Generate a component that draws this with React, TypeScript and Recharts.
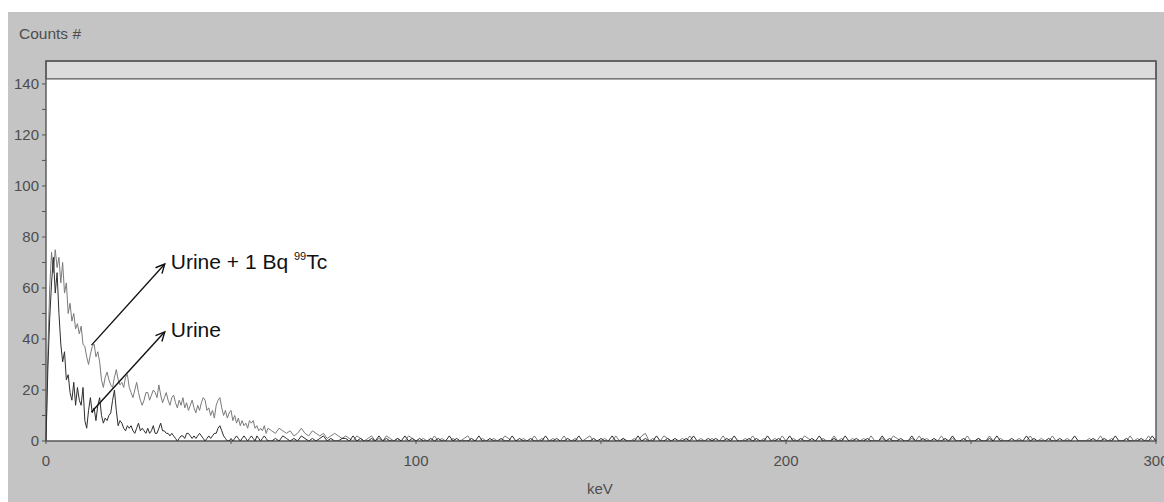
import React from 'react';
import {
  LineChart,
  Line,
  XAxis,
  YAxis,
  CartesianGrid,
  ReferenceArea,
  ReferenceLine
} from 'recharts';

// Counts per channel, 0–60 keV in 0.5 keV channels
const tcHead = [
  0, 35, 60, 74, 66, 75, 68, 72, 62, 70, 58, 62, 50, 54, 47, 50, 44, 46, 42, 45,
  38, 37, 33, 30, 34, 37, 38, 33, 35, 31, 24, 21, 25, 27, 24, 22, 21, 25, 28, 24,
  22, 23, 21, 25, 26, 21, 19, 17, 20, 23, 19, 16, 14, 16, 19, 19, 16, 18, 20, 19,
  17, 22, 18, 15, 17, 19, 16, 14, 17, 18, 15, 13, 16, 14, 17, 13, 15, 12, 14, 16,
  13, 11, 14, 12, 15, 17, 16, 12, 13, 10, 12, 9, 14, 16, 17, 13, 10, 12, 9, 11,
  12, 8, 10, 7, 9, 6, 8, 6, 7, 5, 8, 7, 8, 5, 6, 4, 5, 4, 6, 3,
  5
];

const urineHead = [
  0, 28, 48, 62, 72, 58, 66, 50, 38, 31, 35, 24, 26, 19, 16, 23, 14, 21, 16, 14,
  21, 8, 5, 12, 17, 11, 13, 8, 14, 17, 10, 7, 9, 8, 10, 11, 16, 20, 12, 6,
  8, 7, 5, 4, 6, 5, 6, 4, 3, 5, 7, 4, 5, 4, 3, 5, 3, 4, 6, 3,
  3, 5, 7, 4, 4, 3, 3, 2, 3, 2, 1, 0, 1, 2, 2, 1, 3, 3, 2, 1,
  2, 1, 2, 3, 2, 1, 0, 1, 2, 1, 2, 3, 3, 5, 6, 4, 2, 1, 0, 0,
  1, 0, 1, 2, 1, 0, 1, 2, 1, 0, 1, 2, 1, 0, 2, 1, 0, 1, 2, 1,
  0
];

// Counts per channel, 61–300 keV in 1 keV channels
const tcTail = [
  4, 3, 5, 4, 3, 4, 2, 3, 5, 3, 2, 4, 3, 2, 3, 1, 2, 3, 2, 1,
  2, 1, 0, 2, 1, 0, 1, 2, 0, 1, 0, 2, 1, 0, 1, 0, 0, 2, 1, 0,
  0, 1, 0, 0, 2, 0, 1, 0, 0, 1, 0, 0, 1, 2, 0, 0, 0, 1, 0, 0,
  1, 0, 0, 2, 1, 0, 0, 0, 1, 0, 0, 2, 0, 1, 0, 0, 1, 0, 0, 2,
  0, 0, 1, 0, 0, 1, 2, 0, 0, 0, 1, 0, 0, 2, 0, 1, 0, 0, 1, 0,
  2, 3, 0, 1, 0, 0, 2, 1, 0, 0, 0, 1, 0, 2, 0, 0, 1, 0, 0, 1,
  0, 0, 2, 0, 1, 0, 0, 0, 1, 0, 2, 0, 0, 1, 0, 0, 1, 0, 2, 0,
  0, 1, 0, 0, 2, 1, 0, 0, 0, 1, 0, 0, 2, 0, 1, 0, 0, 1, 0, 0,
  1, 0, 2, 0, 0, 1, 0, 0, 2, 1, 0, 0, 0, 1, 0, 2, 0, 1, 0, 0,
  0, 2, 0, 0, 1, 0, 0, 0, 2, 0, 0, 1, 0, 0, 2, 0, 0, 1, 0, 0,
  0, 0, 1, 0, 0, 2, 0, 0, 1, 0, 0, 2, 0, 0, 0, 1, 0, 0, 0, 0,
  0, 1, 0, 0, 2, 0, 0, 1, 0, 0, 0, 0, 2, 0, 1, 0, 0, 2, 0, 1
];

const urineTail = [
  0, 1, 0, 2, 1, 0, 1, 0, 2, 1, 0, 1, 0, 1, 2, 0, 1, 0, 0, 1,
  1, 0, 2, 0, 1, 0, 0, 1, 0, 2, 0, 1, 0, 0, 1, 0, 2, 0, 1, 0,
  1, 0, 0, 1, 0, 1, 0, 0, 2, 0, 1, 0, 0, 0, 1, 0, 2, 0, 0, 1,
  0, 0, 1, 0, 0, 2, 0, 1, 0, 0, 1, 0, 0, 0, 2, 0, 0, 1, 0, 0,
  1, 0, 0, 2, 0, 0, 0, 1, 0, 1, 0, 0, 2, 0, 0, 1, 0, 0, 0, 2,
  0, 1, 0, 0, 2, 0, 0, 1, 0, 1, 0, 0, 1, 0, 2, 0, 0, 0, 1, 0,
  1, 0, 0, 1, 0, 2, 0, 0, 0, 1, 0, 1, 0, 0, 2, 0, 0, 1, 0, 0,
  2, 0, 0, 1, 0, 0, 1, 0, 2, 0, 0, 0, 1, 0, 0, 2, 0, 0, 1, 0,
  0, 1, 0, 0, 0, 2, 0, 1, 0, 0, 1, 0, 0, 2, 0, 0, 1, 0, 0, 1,
  0, 0, 1, 0, 2, 0, 0, 1, 0, 0, 0, 1, 0, 0, 1, 0, 2, 0, 0, 0,
  1, 0, 0, 0, 2, 0, 1, 0, 0, 0, 1, 0, 0, 1, 0, 0, 0, 2, 0, 0,
  0, 0, 1, 0, 0, 1, 0, 0, 2, 0, 0, 1, 0, 0, 0, 1, 0, 0, 2, 0
];

const HEAD_STEP = 0.5;
const TAIL_START = 61;

const yTicks = [0, 10, 20, 30, 40, 50, 60, 70, 80, 90, 100, 110, 120, 130, 140];
const xTicks = [0, 50, 100, 150, 200, 250, 300];

const annotations = [
  { text: 'Urine + 1 Bq ', iso: '99', elem: 'Tc', from: { x: 12.3, y: 37.6 }, to: { x: 32.1, y: 69.4 } },
  { text: 'Urine', iso: '', elem: '', from: { x: 12.3, y: 11.4 }, to: { x: 32.1, y: 42.8 } }
];

const spectrum = [
  ...tcHead.map((v, i) => ({ keV: i * HEAD_STEP, tc: v, urine: urineHead[i] })),
  ...tcTail.map((v, i) => ({ keV: TAIL_START + i, tc: v, urine: urineTail[i] }))
];

const FONT = '"Liberation Sans", Arial, sans-serif';
const TEXT = '#4d4d4d';

const YTick = ({ x, y, payload }: any) =>
  payload.value % 20 === 0 ? (
    <text x={x} y={y} dy={5} textAnchor="end" fill={TEXT} fontSize={15} fontFamily={FONT}>
      {payload.value}
    </text>
  ) : (
    <g />
  );

const XTick = ({ x, y, payload }: any) =>
  payload.value % 100 === 0 ? (
    <text x={x} y={y} dy={11} textAnchor="middle" fill={TEXT} fontSize={15} fontFamily={FONT}>
      {payload.value}
    </text>
  ) : (
    <g />
  );

// line with an open arrowhead and the note written past its tip
const Arrow = ({ x1, y1, x2, y2, note }: any) => {
  const ang = Math.atan2(y2 - y1, x2 - x1);
  const len = 10;
  const spread = 0.45;
  const hx1 = x2 - len * Math.cos(ang - spread);
  const hy1 = y2 - len * Math.sin(ang - spread);
  const hx2 = x2 - len * Math.cos(ang + spread);
  const hy2 = y2 - len * Math.sin(ang + spread);
  return (
    <g>
      <line x1={x1} y1={y1} x2={x2} y2={y2} stroke="#111" strokeWidth={1.4} />
      <polyline points={`${hx1},${hy1} ${x2},${y2} ${hx2},${hy2}`} fill="none" stroke="#111" strokeWidth={1.4} />
      <text x={x2 + 6} y={y2 + 5} fill="#111" fontSize={21} fontFamily={FONT}>
        {note.text}
        {note.iso && (
          <tspan fontSize={11} dy={-9}>{note.iso}</tspan>
        )}
        {note.elem && <tspan fontSize={21} dy={9}>{note.elem}</tspan>}
      </text>
    </g>
  );
};

export default function App() {
  return (
    <div
      style={{
        position: 'fixed',
        left: 8,
        top: 12,
        width: 1156,
        height: 490,
        background: '#c4c4c4',
        fontFamily: FONT
      }}
    >
      <div style={{ position: 'absolute', left: 11, top: 13, fontSize: 15.5, color: TEXT }}>Counts #</div>
      <div style={{ position: 'absolute', left: 579, top: 468, fontSize: 15, color: TEXT }}>keV</div>
      <LineChart
        width={1156}
        height={490}
        data={spectrum}
        margin={{ top: 49, right: 8, left: 0, bottom: 31 }}
      >
        <CartesianGrid fill="#ffffff" horizontal={false} vertical={false} />
        <XAxis
          dataKey="keV"
          type="number"
          domain={[0, 300]}
          ticks={xTicks}
          axisLine={false}
          tickLine={{ stroke: '#555' }}
          tickSize={3}
          tickMargin={11}
          height={30}
          tick={<XTick />}
          interval={0}
        />
        <YAxis
          type="number"
          domain={[0, 149]}
          ticks={yTicks}
          allowDataOverflow
          axisLine={false}
          tickLine={{ stroke: '#555' }}
          tickSize={4}
          tickMargin={3}
          width={38}
          tick={<YTick />}
          interval={0}
        />
        <ReferenceArea x1={0} x2={300} y1={142} y2={149} fill="#dcdcdc" fillOpacity={1} stroke="#555" strokeWidth={1.2} />
        <Line type="linear" dataKey="tc" stroke="#7a7a7a" strokeWidth={1} dot={false} isAnimationActive={false} />
        <Line type="linear" dataKey="urine" stroke="#2e2e2e" strokeWidth={1} dot={false} isAnimationActive={false} />
        <ReferenceArea x1={0} x2={300} y1={0} y2={149} fill="none" stroke="#555" strokeWidth={1.4} />
        {annotations.map((a) => (
          <ReferenceLine
            key={a.text}
            segment={[a.from, a.to]}
            shape={(p: any) => <Arrow {...p} note={a} />}
          />
        ))}
      </LineChart>
    </div>
  );
}
